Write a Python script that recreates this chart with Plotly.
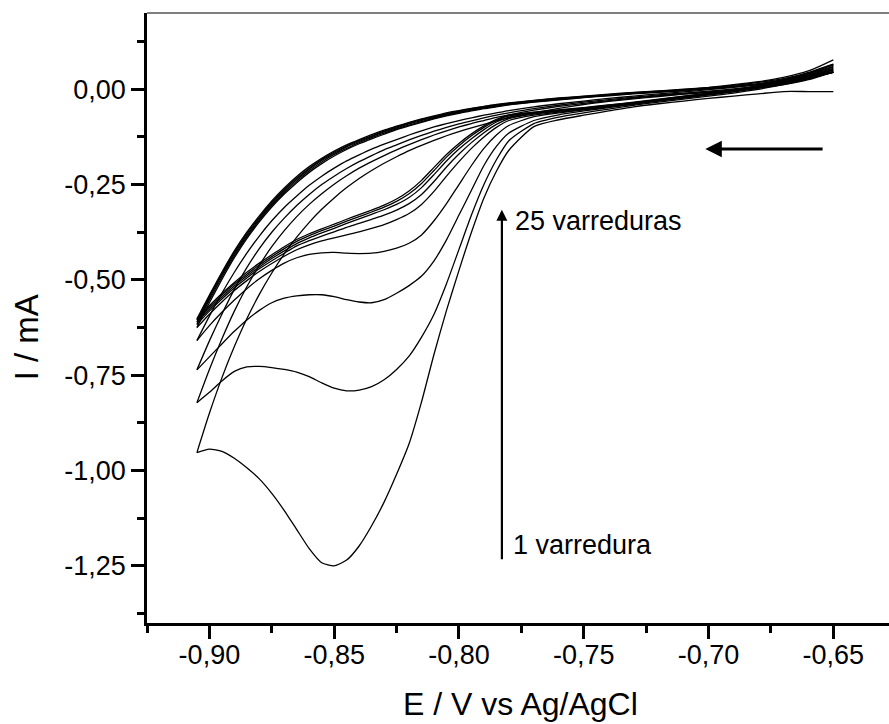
import plotly.graph_objects as go

# Potential grid (V vs Ag/AgCl) for the cathodic sweep, -0.65 -> -0.905
E_FWD = [-0.650, -0.660, -0.670, -0.680, -0.690, -0.700, -0.710, -0.720, -0.730, -0.740,
         -0.750, -0.760, -0.770, -0.780, -0.785, -0.790, -0.795, -0.800, -0.805, -0.810,
         -0.815, -0.820, -0.825, -0.830, -0.835, -0.840, -0.845, -0.850, -0.855, -0.860,
         -0.865, -0.870, -0.875, -0.880, -0.885, -0.890, -0.895, -0.900, -0.905]
# anodic return sweep, -0.905 -> -0.65
E_REV = E_FWD[::-1]

# Currents (mA). *_FWD follow E_FWD, *_REV follow E_REV.
I_FWD_1 = [-0.006, -0.006, -0.006, -0.012, -0.018, -0.024, -0.031, -0.038, -0.046, -0.057,
           -0.068, -0.080, -0.098, -0.160, -0.215, -0.285, -0.375, -0.475, -0.580, -0.695,
           -0.820, -0.930, -1.010, -1.083, -1.145, -1.198, -1.235, -1.250, -1.242, -1.205,
           -1.155, -1.105, -1.060, -1.022, -0.993, -0.968, -0.950, -0.944, -0.953]
I_REV_1 = [-0.953, -0.850, -0.757, -0.675, -0.602, -0.538, -0.482, -0.432, -0.388, -0.349,
           -0.315, -0.285, -0.258, -0.234, -0.213, -0.194, -0.177, -0.161, -0.147, -0.134,
           -0.122, -0.111, -0.101, -0.092, -0.083, -0.075, -0.062, -0.050, -0.040, -0.032,
           -0.025, -0.019, -0.013, -0.008, -0.003, 0.003, 0.012, 0.025, 0.045]

I_FWD_2 = [0.045, 0.028, 0.012, 0.000, -0.010, -0.018, -0.026, -0.034, -0.042, -0.052,
           -0.062, -0.073, -0.090, -0.135, -0.185, -0.250, -0.330, -0.420, -0.510, -0.590,
           -0.650, -0.700, -0.735, -0.762, -0.780, -0.789, -0.791, -0.784, -0.770, -0.754,
           -0.742, -0.735, -0.730, -0.727, -0.728, -0.740, -0.765, -0.795, -0.822]
I_REV_2 = [-0.822, -0.735, -0.655, -0.582, -0.518, -0.462, -0.413, -0.371, -0.334, -0.302,
           -0.274, -0.249, -0.227, -0.207, -0.190, -0.174, -0.159, -0.145, -0.132, -0.120,
           -0.109, -0.099, -0.090, -0.082, -0.074, -0.067, -0.055, -0.045, -0.037, -0.030,
           -0.023, -0.017, -0.012, -0.007, -0.002, 0.005, 0.014, 0.027, 0.045]

I_FWD_3 = [0.045, 0.030, 0.015, 0.003, -0.007, -0.015, -0.023, -0.031, -0.039, -0.048,
           -0.057, -0.067, -0.082, -0.115, -0.150, -0.200, -0.265, -0.330, -0.395, -0.450,
           -0.490, -0.515, -0.535, -0.552, -0.560, -0.558, -0.552, -0.544, -0.539, -0.539,
           -0.542, -0.548, -0.560, -0.580, -0.605, -0.635, -0.668, -0.702, -0.736]
I_REV_3 = [-0.736, -0.660, -0.590, -0.525, -0.468, -0.418, -0.375, -0.338, -0.305, -0.276,
           -0.250, -0.228, -0.208, -0.190, -0.174, -0.159, -0.146, -0.133, -0.121, -0.110,
           -0.100, -0.091, -0.083, -0.075, -0.068, -0.062, -0.051, -0.042, -0.034, -0.027,
           -0.021, -0.015, -0.010, -0.005, 0.001, 0.008, 0.017, 0.029, 0.044]

I_FWD_4 = [0.044, 0.030, 0.016, 0.004, -0.006, -0.014, -0.022, -0.030, -0.038, -0.046,
           -0.054, -0.062, -0.072, -0.095, -0.120, -0.155, -0.200, -0.250, -0.300, -0.345,
           -0.382, -0.404, -0.417, -0.425, -0.430, -0.431, -0.430, -0.428, -0.429, -0.433,
           -0.442, -0.456, -0.475, -0.497, -0.523, -0.553, -0.585, -0.620, -0.659]
I_REV_4 = [-0.659, -0.595, -0.535, -0.480, -0.430, -0.385, -0.345, -0.310, -0.280, -0.252,
           -0.228, -0.207, -0.188, -0.172, -0.157, -0.144, -0.132, -0.120, -0.109, -0.099,
           -0.090, -0.082, -0.075, -0.068, -0.062, -0.056, -0.046, -0.038, -0.031, -0.024,
           -0.018, -0.012, -0.007, -0.001, 0.005, 0.012, 0.021, 0.033, 0.047]

I_FWD_5 = [0.050, 0.034, 0.018, 0.005, -0.005, -0.014, -0.022, -0.030, -0.038, -0.046,
           -0.053, -0.060, -0.068, -0.082, -0.100, -0.125, -0.155, -0.190, -0.228, -0.268,
           -0.302, -0.326, -0.342, -0.355, -0.365, -0.374, -0.382, -0.390, -0.398, -0.408,
           -0.421, -0.438, -0.457, -0.478, -0.502, -0.528, -0.558, -0.590, -0.625]
I_REV_5 = [-0.625, -0.560, -0.499, -0.442, -0.392, -0.348, -0.309, -0.275, -0.245, -0.218,
           -0.195, -0.175, -0.158, -0.143, -0.130, -0.118, -0.106, -0.096, -0.087, -0.078,
           -0.070, -0.063, -0.057, -0.051, -0.046, -0.041, -0.034, -0.028, -0.022, -0.017,
           -0.012, -0.008, -0.004, 0.001, 0.006, 0.013, 0.022, 0.034, 0.050]

I_FWD_8 = [0.055, 0.037, 0.020, 0.007, -0.004, -0.013, -0.021, -0.029, -0.037, -0.045,
           -0.052, -0.058, -0.065, -0.077, -0.092, -0.114, -0.140, -0.170, -0.204, -0.242,
           -0.276, -0.300, -0.317, -0.330, -0.341, -0.352, -0.362, -0.374, -0.385, -0.397,
           -0.411, -0.430, -0.450, -0.471, -0.495, -0.521, -0.550, -0.582, -0.617]
I_REV_8 = [-0.617, -0.553, -0.493, -0.437, -0.387, -0.344, -0.305, -0.271, -0.241, -0.214,
           -0.191, -0.171, -0.155, -0.140, -0.127, -0.115, -0.104, -0.094, -0.085, -0.076,
           -0.068, -0.061, -0.055, -0.049, -0.044, -0.040, -0.033, -0.027, -0.021, -0.016,
           -0.011, -0.007, -0.003, 0.002, 0.007, 0.014, 0.024, 0.036, 0.053]

I_FWD_12 = [0.060, 0.040, 0.022, 0.008, -0.003, -0.012, -0.020, -0.028, -0.036, -0.044,
            -0.050, -0.056, -0.063, -0.073, -0.086, -0.106, -0.130, -0.157, -0.188, -0.224,
            -0.258, -0.284, -0.302, -0.316, -0.328, -0.340, -0.352, -0.365, -0.377, -0.390,
            -0.405, -0.424, -0.444, -0.466, -0.490, -0.516, -0.545, -0.577, -0.611]
I_REV_12 = [-0.611, -0.548, -0.488, -0.432, -0.383, -0.340, -0.301, -0.267, -0.237, -0.210,
            -0.187, -0.168, -0.151, -0.137, -0.124, -0.112, -0.101, -0.091, -0.082, -0.074,
            -0.066, -0.059, -0.053, -0.047, -0.042, -0.038, -0.031, -0.025, -0.020, -0.015,
            -0.010, -0.006, -0.002, 0.002, 0.008, 0.015, 0.025, 0.038, 0.058]

I_FWD_18 = [0.063, 0.042, 0.024, 0.009, -0.002, -0.011, -0.019, -0.027, -0.035, -0.042,
            -0.049, -0.055, -0.061, -0.070, -0.082, -0.100, -0.122, -0.148, -0.178, -0.213,
            -0.247, -0.274, -0.294, -0.309, -0.322, -0.334, -0.346, -0.359, -0.371, -0.384,
            -0.399, -0.418, -0.439, -0.461, -0.485, -0.511, -0.540, -0.572, -0.606]
I_REV_18 = [-0.606, -0.544, -0.484, -0.428, -0.379, -0.336, -0.297, -0.263, -0.233, -0.207,
            -0.184, -0.165, -0.149, -0.135, -0.122, -0.110, -0.099, -0.089, -0.080, -0.072,
            -0.064, -0.057, -0.051, -0.046, -0.041, -0.037, -0.030, -0.024, -0.019, -0.014,
            -0.009, -0.005, -0.001, 0.004, 0.010, 0.018, 0.028, 0.042, 0.065]

I_FWD_25 = [0.066, 0.044, 0.025, 0.010, -0.001, -0.010, -0.018, -0.026, -0.034, -0.041,
            -0.048, -0.054, -0.060, -0.068, -0.079, -0.096, -0.117, -0.142, -0.171, -0.205,
            -0.239, -0.267, -0.288, -0.304, -0.317, -0.329, -0.341, -0.354, -0.366, -0.379,
            -0.394, -0.413, -0.434, -0.456, -0.480, -0.507, -0.536, -0.568, -0.602]
I_REV_25 = [-0.602, -0.540, -0.480, -0.424, -0.375, -0.332, -0.293, -0.259, -0.229, -0.203,
            -0.181, -0.162, -0.146, -0.132, -0.119, -0.107, -0.097, -0.087, -0.078, -0.070,
            -0.062, -0.056, -0.050, -0.045, -0.040, -0.036, -0.029, -0.023, -0.018, -0.013,
            -0.008, -0.004, 0.000, 0.005, 0.012, 0.020, 0.031, 0.048, 0.077]

CYCLES = [
    (I_FWD_1, I_REV_1), (I_FWD_2, I_REV_2), (I_FWD_3, I_REV_3), (I_FWD_4, I_REV_4),
    (I_FWD_5, I_REV_5), (I_FWD_8, I_REV_8), (I_FWD_12, I_REV_12),
    (I_FWD_18, I_REV_18), (I_FWD_25, I_REV_25),
]

X_TICKS = [-0.90, -0.85, -0.80, -0.75, -0.70, -0.65]
X_LABELS = ["-0,90", "-0,85", "-0,80", "-0,75", "-0,70", "-0,65"]
Y_TICKS = [0.0, -0.25, -0.50, -0.75, -1.00, -1.25]
Y_LABELS = ["0,00", "-0,25", "-0,50", "-0,75", "-1,00", "-1,25"]

X_RANGE = [-0.925, -0.6277]
Y_RANGE = [-1.40, 0.20]

FONT = "Liberation Sans, Arial, Helvetica, sans-serif"
line_style = dict(color="black", width=1.3, shape="spline", smoothing=0.6)

fig = go.Figure()
for fwd, rev in CYCLES:
    fig.add_trace(go.Scatter(x=E_FWD, y=fwd, mode="lines", line=line_style,
                             hoverinfo="skip", showlegend=False))
    fig.add_trace(go.Scatter(x=E_REV, y=rev, mode="lines", line=line_style,
                             hoverinfo="skip", showlegend=False))

axis_common = dict(
    showline=True, linewidth=2.5, linecolor="black",
    ticks="outside", ticklen=13, tickwidth=2.5, tickcolor="black",
    tickfont=dict(family=FONT, size=27, color="black"),
    showgrid=False, zeroline=False, tickmode="array",
)

fig.update_xaxes(range=X_RANGE, tickvals=X_TICKS, ticktext=X_LABELS,
                 ticklabelstandoff=-7,
                 minor=dict(tickmode="linear", tick0=-0.9, dtick=0.025, ticks="outside",
                            ticklen=7, tickwidth=2.5, tickcolor="black"),
                 **axis_common)
fig.update_yaxes(range=Y_RANGE, tickvals=Y_TICKS, ticktext=Y_LABELS,
                 minor=dict(tickmode="linear", tick0=0.0, dtick=0.125, ticks="outside",
                            ticklen=7, tickwidth=2.5, tickcolor="black"),
                 **axis_common)

annotations = [
    # axis titles
    dict(text="E / V vs Ag/AgCl", xref="paper", yref="paper", x=0.504, y=-0.133,
         xanchor="center", yanchor="middle", showarrow=False,
         font=dict(family=FONT, size=32, color="black")),
    dict(text="I / mA", xref="paper", yref="paper", x=-0.162, y=0.468, textangle=-90,
         xanchor="center", yanchor="middle", showarrow=False,
         font=dict(family=FONT, size=33, color="black")),
    # scan labels
    dict(text="25 varreduras", xref="x", yref="y", x=-0.7784, y=-0.3468,
         xanchor="left", yanchor="middle", showarrow=False,
         font=dict(family=FONT, size=27, color="black")),
    dict(text="1 varredura", xref="x", yref="y", x=-0.7793, y=-1.1948,
         xanchor="left", yanchor="middle", showarrow=False,
         font=dict(family=FONT, size=27, color="black")),
    # growth arrow (scan 1 -> scan 25)
    dict(text="", x=-0.7828, y=-0.316, ax=-0.7828, ay=-1.237,
         xref="x", yref="y", axref="x", ayref="y",
         showarrow=True, arrowhead=2, arrowsize=1.0, arrowwidth=2.2, arrowcolor="black"),
    # sweep direction arrow
    dict(text="", x=-0.7013, y=-0.157, ax=-0.6537, ay=-0.157,
         xref="x", yref="y", axref="x", ayref="y",
         showarrow=True, arrowhead=2, arrowsize=1.1, arrowwidth=3, arrowcolor="black"),
]

fig.update_layout(
    width=889, height=724,
    margin=dict(l=147, r=0, t=13, b=101),
    paper_bgcolor="white", plot_bgcolor="white",
    showlegend=False,
    font=dict(family=FONT, color="black"),
    annotations=annotations,
    shapes=[dict(type="line", xref="paper", yref="paper", x0=0, x1=1, y0=1, y1=1,
                 line=dict(color="#555555", width=1.5))],
)

fig.write_html("out.html")
